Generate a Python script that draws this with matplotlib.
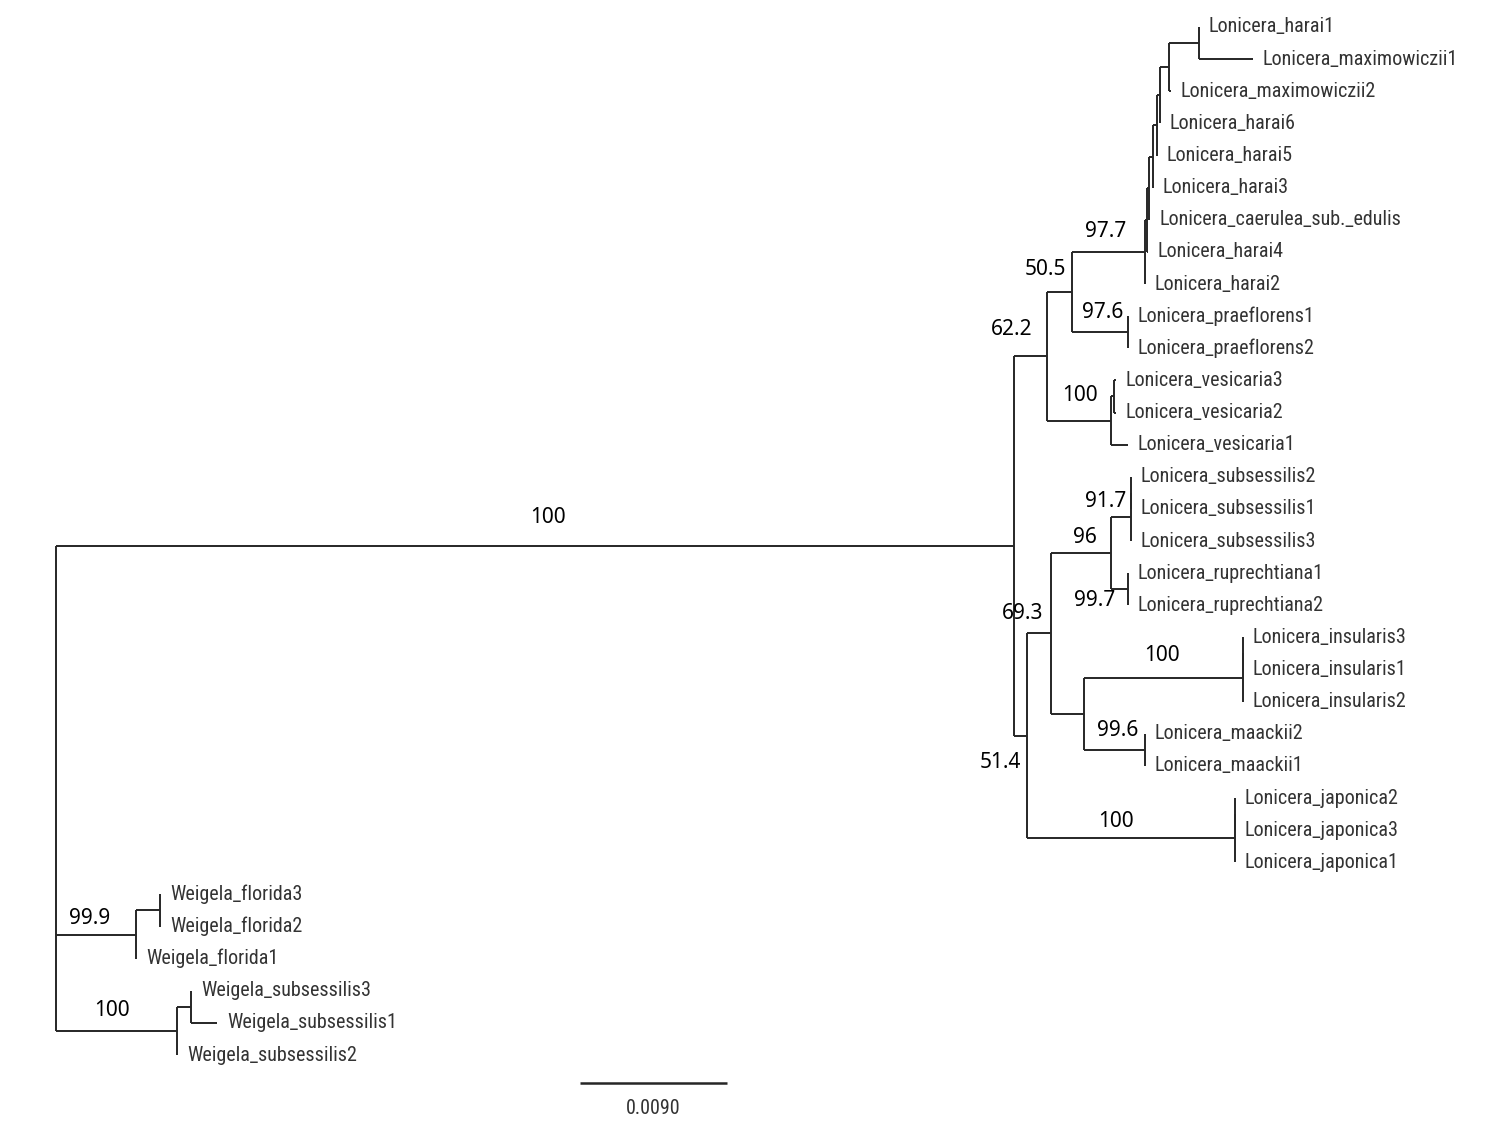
import matplotlib
matplotlib.use("Agg")
import matplotlib.pyplot as plt
from matplotlib import font_manager
from matplotlib.transforms import blended_transform_factory

# tree as parallel lists: node, parent, branch length (subst./site)
nodes = [
    "root", "Lonicera", "WFlorida", "WSubsess",
    "cladeU", "cladeL",
    "cladeN1", "vesicaria",
    "harai", "praeflorens",
    "hB", "Lonicera_harai2",
    "hC", "Lonicera_harai4",
    "hD", "Lonicera_caerulea_sub._edulis",
    "hE", "Lonicera_harai3",
    "hF", "Lonicera_harai5",
    "hG", "Lonicera_harai6",
    "hH", "Lonicera_maximowiczii2",
    "Lonicera_harai1", "Lonicera_maximowiczii1",
    "Lonicera_praeflorens1", "Lonicera_praeflorens2",
    "vV", "Lonicera_vesicaria1",
    "Lonicera_vesicaria3", "Lonicera_vesicaria2",
    "cladeM", "japonica",
    "cladeS", "cladeK",
    "subsessilis", "ruprechtiana",
    "sI", "Lonicera_subsessilis3",
    "Lonicera_subsessilis2", "Lonicera_subsessilis1",
    "Lonicera_ruprechtiana1", "Lonicera_ruprechtiana2",
    "insularis", "maackii",
    "iI", "Lonicera_insularis2",
    "Lonicera_insularis3", "Lonicera_insularis1",
    "Lonicera_maackii2", "Lonicera_maackii1",
    "jI", "Lonicera_japonica1",
    "Lonicera_japonica2", "Lonicera_japonica3",
    "fI", "Weigela_florida1",
    "Weigela_florida3", "Weigela_florida2",
    "wI", "Weigela_subsessilis2",
    "Weigela_subsessilis3", "Weigela_subsessilis1",
]
parents = [
    None, "root", "root", "root",
    "Lonicera", "Lonicera",
    "cladeU", "cladeU",
    "cladeN1", "cladeN1",
    "harai", "harai",
    "hB", "hB",
    "hC", "hC",
    "hD", "hD",
    "hE", "hE",
    "hF", "hF",
    "hG", "hG",
    "hH", "hH",
    "praeflorens", "praeflorens",
    "vesicaria", "vesicaria",
    "vV", "vV",
    "cladeL", "cladeL",
    "cladeM", "cladeM",
    "cladeS", "cladeS",
    "subsessilis", "subsessilis",
    "sI", "sI",
    "ruprechtiana", "ruprechtiana",
    "cladeK", "cladeK",
    "insularis", "insularis",
    "iI", "iI",
    "maackii", "maackii",
    "japonica", "japonica",
    "jI", "jI",
    "WFlorida", "WFlorida",
    "fI", "fI",
    "WSubsess", "WSubsess",
    "wI", "wI",
]
lengths = [
    0.0, 0.05865, 0.00490, 0.00741,
    0.00202, 0.00080,
    0.00153, 0.00392,
    0.00447, 0.00343,
    0.00012, 0.0,
    0.00012, 0.00006,
    0.00024, 0.00003,
    0.00024, 0.0,
    0.00018, 0.0,
    0.00055, 0.0,
    0.00184, 0.00012,
    0.0, 0.00331,
    0.0, 0.0,
    0.00018, 0.00104,
    0.00012, 0.00012,
    0.00147, 0.01273,
    0.00367, 0.00202,
    0.00122, 0.00104,
    0.0, 0.0,
    0.0, 0.0,
    0.0, 0.0,
    0.00973, 0.00373,
    0.0, 0.0,
    0.0, 0.0,
    0.0, 0.0,
    0.0, 0.0,
    0.0, 0.0,
    0.00147, 0.0,
    0.0, 0.0,
    0.00086, 0.0,
    0.0, 0.00159,
]
support = {
    "Lonicera": "100", "cladeU": "62.2", "cladeN1": "50.5", "harai": "97.7",
    "praeflorens": "97.6", "vesicaria": "100", "cladeL": "51.4",
    "cladeM": "69.3", "cladeS": "96", "subsessilis": "91.7",
    "ruprechtiana": "99.7", "insularis": "100", "maackii": "99.6",
    "japonica": "100", "WFlorida": "99.9", "WSubsess": "100",
}
scale_len = 0.009
scale_label = "0.0090"

# label placement (screen pixels from branch midpoint)
support_offset = {
    "Lonicera": (13, 29), "cladeU": (-19, 27), "cladeN1": (-14, 23),
    "harai": (-3, 21), "praeflorens": (3, 20), "vesicaria": (1, 25),
    "cladeL": (-20, -27), "cladeM": (-16, 20), "cladeS": (4, 16),
    "subsessilis": (-15, 15), "ruprechtiana": (-25, -11),
    "insularis": (-1, 22), "maackii": (3, 19), "japonica": (-15, 17),
    "WFlorida": (-6, 16), "WSubsess": (-5, 20),
}

# narrow font if there is one, else Arial-like at a smaller size
installed = {f.name for f in font_manager.fontManager.ttflist}
tip_font, tip_size = "Liberation Sans", 12.2
for fam in ["Liberation Sans Narrow", "Arial Narrow", "Roboto Condensed",
            "Open Sans Condensed"]:
    if fam in installed:
        tip_font, tip_size = fam, 14.5
        break

children = {n: [] for n in nodes}
blen = dict(zip(nodes, lengths))
for n, p in zip(nodes, parents):
    if p is not None:
        children[p].append(n)

xpos, ypos, par = {}, {}, dict(zip(nodes, parents))
leaf_i = [0]


def layout(n, x):
    xpos[n] = x
    if not children[n]:
        ypos[n] = leaf_i[0]
        leaf_i[0] += 1
        return
    for c in children[n]:
        layout(c, x + blen[c])
    ypos[n] = (ypos[children[n][0]] + ypos[children[n][-1]]) / 2


layout("root", 0.0)

line_col = "#262626"
tip_col = "#333333"
px = scale_len / 147.0  # data units per pixel
row = 32.125

fig = plt.figure(figsize=(15, 11.25), dpi=100)
ax = fig.add_axes([0, 0, 1, 1])
ax.set_xlim(-56 * px, (1500 - 56) * px)
ax.set_ylim((1125 - 27) / row, -27 / row)
ax.axis("off")

for n in nodes:
    kids = children[n]
    if kids:
        ax.plot([xpos[n], xpos[n]], [ypos[kids[0]], ypos[kids[-1]]],
                color=line_col, lw=1.4, solid_capstyle="butt")
    if par[n] is None:
        continue
    p = par[n]
    ax.plot([xpos[p], xpos[n]], [ypos[n], ypos[n]],
            color=line_col, lw=1.4, solid_capstyle="butt")
    if not kids:
        ax.annotate(n, (xpos[n], ypos[n]), xytext=(10, 0),
                    textcoords="offset pixels", ha="left", va="center",
                    fontsize=tip_size, color=tip_col,
                    family=[tip_font, "DejaVu Sans"])
    if n in support:
        dx, dy = support_offset.get(n, (0, 20))
        ax.annotate(support[n], ((xpos[p] + xpos[n]) / 2, ypos[n]),
                    xytext=(dx, dy), textcoords="offset pixels",
                    ha="center", va="center", fontsize=15, color="black",
                    family=["Noto Sans", "DejaVu Sans"])

# scale bar
tr = blended_transform_factory(ax.transData, ax.transAxes)
x0 = (580 - 56) * px
yb = 1 - 1083 / 1125
ax.plot([x0, x0 + scale_len], [yb, yb], color=line_col, lw=1.8,
        transform=tr, solid_capstyle="butt")
ax.text(x0 + scale_len / 2, 1 - 1108 / 1125, scale_label, transform=tr,
        ha="center", va="center", fontsize=tip_size, color=tip_col,
        family=[tip_font, "DejaVu Sans"])

fig.savefig("out.png", dpi=100, facecolor="white")
